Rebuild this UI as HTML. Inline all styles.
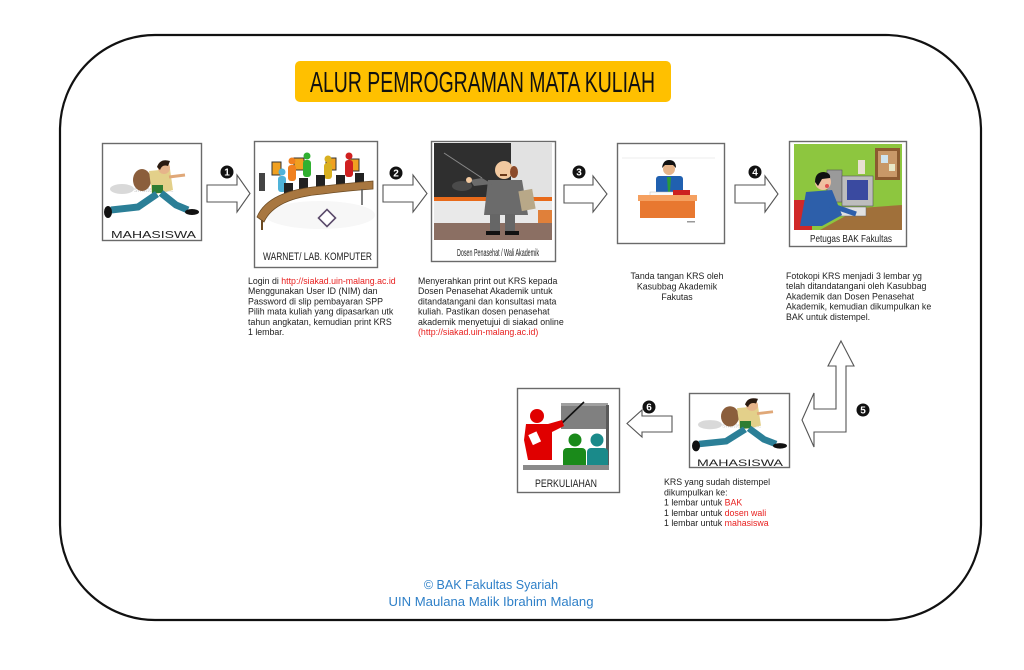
<!DOCTYPE html>
<html><head><meta charset="utf-8"><style>
html,body{margin:0;padding:0;background:#fff;}
svg{display:block;font-family:"Liberation Sans",Arial,sans-serif;}
.p{font-size:8.8px;fill:#222;}
.r{fill:#e8201f;}
.box{fill:#fff;stroke:#6a6a6a;stroke-width:1.4;}
.arr{fill:#fff;stroke:#555;stroke-width:1.1;stroke-linejoin:miter;}
.num{font-size:10px;font-weight:bold;fill:#fff;text-anchor:middle;}
</style></head><body>
<svg width="1024" height="670" viewBox="0 0 1024 670" xmlns="http://www.w3.org/2000/svg">
<rect width="1024" height="670" fill="#fff"/>
<rect x="60" y="35" width="921" height="585" rx="95" ry="95" fill="none" stroke="#111" stroke-width="2.2"/>

<!-- Title -->
<rect x="295" y="61" width="376" height="41" rx="5" fill="#ffc000"/>
<text x="310" y="92" font-size="29" fill="#111" textLength="345" lengthAdjust="spacingAndGlyphs">ALUR PEMROGRAMAN MATA KULIAH</text>

<!-- Box 1 MAHASISWA -->
<rect class="box" x="102.5" y="143.5" width="99" height="97"/>
<g id="student">
  <ellipse cx="122" cy="189" rx="12" ry="5" fill="#d9d9d9"/>
  <text x="134" y="192" font-size="7" fill="#cfcfcf">shutterstock.</text>
  <ellipse cx="142" cy="180" rx="9" ry="11" fill="#8b5e3c"/>
  <polygon points="149,171 170,169 173,190 152,195" fill="#e3d08a"/>
  <rect x="152" y="185" width="11" height="8" fill="#2e7d32"/>
  <line x1="169" y1="177" x2="185" y2="175" stroke="#e0a878" stroke-width="3"/>
  <circle cx="164" cy="168" r="6" fill="#e6b48a"/>
  <path d="M157,167 Q160,158 170,161 L168,166 Q162,164 160,170 Z" fill="#2a1a10"/>
  <polyline points="157,194 138,207 111,210" fill="none" stroke="#2b7f97" stroke-width="7"/>
  <polyline points="161,193 176,205 188,210" fill="none" stroke="#2b7f97" stroke-width="7"/>
  <ellipse cx="108" cy="212" rx="4" ry="6" fill="#111"/>
  <ellipse cx="192" cy="212" rx="7" ry="3" fill="#111"/>
</g>
<text x="111" y="238" font-size="10" fill="#222" textLength="85" lengthAdjust="spacingAndGlyphs">MAHASISWA</text>

<!-- Arrow 1 -->
<polygon class="arr" points="207,185 237,185 237,175 250,193.5 237,212 237,202 207,202"/>
<circle cx="227" cy="172" r="6.5" fill="#111"/><text class="num" x="227" y="175.5">1</text>

<!-- Box 2 WARNET -->
<rect class="box" x="254.5" y="141.5" width="123" height="126"/>
<ellipse cx="320" cy="215" rx="55" ry="14" fill="#f7f7f7"/>
<rect x="259" y="173" width="6" height="18" fill="#444"/>
<rect x="272" y="162" width="9" height="13" fill="#f0a020" stroke="#333" stroke-width="1"/>
<rect x="294" y="158" width="10" height="12" fill="#f0a020" stroke="#333" stroke-width="1"/>
<rect x="326" y="158" width="10" height="12" fill="#f0a020" stroke="#333" stroke-width="1"/>
<rect x="349" y="159" width="10" height="12" fill="#f0a020" stroke="#333" stroke-width="1"/>
<circle cx="282" cy="172" r="3.5" fill="#4fb3d9"/><rect x="278" y="176" width="8" height="16" rx="3" fill="#4fb3d9"/>
<circle cx="292" cy="161" r="3.5" fill="#f08020"/><rect x="288" y="165" width="8" height="16" rx="3" fill="#f08020"/>
<circle cx="307" cy="156" r="3.5" fill="#30b030"/><rect x="303" y="160" width="8" height="17" rx="3" fill="#30b030"/>
<circle cx="328" cy="159" r="3.5" fill="#d8b020"/><rect x="324" y="163" width="8" height="16" rx="3" fill="#d8b020"/>
<circle cx="349" cy="156" r="3.5" fill="#d02020"/><rect x="345" y="160" width="8" height="17" rx="3" fill="#d02020"/>
<rect x="284" y="183" width="9" height="16" fill="#222"/>
<rect x="299" y="178" width="9" height="16" fill="#222"/>
<rect x="316" y="175" width="9" height="16" fill="#222"/>
<rect x="336" y="175" width="9" height="16" fill="#222"/>
<rect x="355" y="173" width="9" height="16" fill="#222"/>
<path d="M257,217 Q268,190 323,186 Q350,183 373,181 L373,189 Q345,191 323,194 Q275,198 264,222 Z" fill="#a87740" stroke="#6b4a22" stroke-width="0.8"/>
<line x1="262" y1="220" x2="262" y2="230" stroke="#6b4a22" stroke-width="2"/>
<line x1="362" y1="189" x2="362" y2="205" stroke="#555" stroke-width="1.5"/>
<rect x="321" y="212" width="12" height="12" fill="#fff" stroke="#5a4a6a" stroke-width="1.6" transform="rotate(45 327 218)"/>
<text x="263" y="260" font-size="11" fill="#222" textLength="109" lengthAdjust="spacingAndGlyphs">WARNET/ LAB. KOMPUTER</text>

<!-- Arrow 2 -->
<polygon class="arr" points="383,185 413,185 413,175 427,193.5 413,212 413,202 383,202"/>
<circle cx="396" cy="173" r="6.5" fill="#111"/><text class="num" x="396" y="176.5">2</text>

<!-- Box 3 Dosen -->
<rect class="box" x="431.5" y="141.5" width="124" height="120"/>
<rect x="434" y="143" width="77" height="55" fill="#2f2f2f"/>
<rect x="511" y="143" width="41" height="55" fill="#e2e2e2"/>
<rect x="434" y="197" width="118" height="4" fill="#e86a1a"/>
<rect x="434" y="201" width="118" height="23" fill="#e9e9e9"/>
<rect x="538" y="210" width="14" height="15" fill="#e0803a"/>
<rect x="434" y="223" width="118" height="17" fill="#8b6f63"/>
<ellipse cx="462" cy="186" rx="10" ry="5" fill="#4a4a4a"/>
<line x1="444" y1="153" x2="482" y2="178" stroke="#8a8a8a" stroke-width="1"/>
<polygon points="488,180 522,180 528,215 484,215" fill="#6b6b6b"/>
<polygon points="482,178 492,184 474,186 470,180" fill="#6b6b6b"/>
<circle cx="469" cy="180" r="3" fill="#f2c9a0"/>
<rect x="490" y="214" width="10" height="18" fill="#666"/>
<rect x="505" y="214" width="10" height="18" fill="#666"/>
<rect x="486" y="231" width="14" height="4" fill="#111"/>
<rect x="505" y="231" width="14" height="4" fill="#111"/>
<rect x="520" y="190" width="14" height="20" fill="#b8a888" transform="rotate(-10 527 200)"/>
<circle cx="504" cy="170" r="9" fill="#f2c9a0"/>
<ellipse cx="514" cy="172" rx="4" ry="6" fill="#8b4a2a"/>
<rect x="500" y="174" width="7" height="2" fill="#6b3a1a"/>
<text x="457" y="256" font-size="10" fill="#222" textLength="82" lengthAdjust="spacingAndGlyphs">Dosen Penasehat / Wali Akademik</text>

<!-- Arrow 3 -->
<polygon class="arr" points="564,185 593,185 593,176 607,194 593,212 593,203 564,203"/>
<circle cx="579" cy="172" r="6.5" fill="#111"/><text class="num" x="579" y="175.5">3</text>

<!-- Box 4 Tanda tangan -->
<rect class="box" x="617.5" y="143.5" width="107" height="100"/>
<line x1="622" y1="158" x2="715" y2="158" stroke="#eee" stroke-width="1"/>
<rect x="656" y="176" width="27" height="20" rx="3" fill="#2060b0"/>
<polygon points="667,177 671,177 670,192 668,192" fill="#2a9a3a"/>
<circle cx="669" cy="169" r="6" fill="#e6b48a"/>
<path d="M662,168 Q663,160 669,160 Q676,160 676,168 L673,165 L665,165 Z" fill="#111"/>
<rect x="650" y="192" width="26" height="4" fill="#fafafa" stroke="#bbb" stroke-width="0.5"/>
<rect x="673" y="190" width="17" height="5" fill="#cc2020"/>
<rect x="638" y="195" width="59" height="6" fill="#f5a060"/>
<rect x="640" y="201" width="55" height="17" fill="#e87830"/>
<rect x="687" y="221" width="8" height="1.5" fill="#999"/>
<text x="677" y="279" class="p" text-anchor="middle">Tanda tangan KRS oleh</text>
<text x="677" y="289.5" class="p" text-anchor="middle">Kasubbag Akademik</text>
<text x="677" y="300" class="p" text-anchor="middle">Fakutas</text>

<!-- Arrow 4 -->
<polygon class="arr" points="735,185 765,185 765,176 778,194 765,212 765,203 735,203"/>
<circle cx="755" cy="172" r="6.5" fill="#111"/><text class="num" x="755" y="175.5">4</text>

<!-- Box 5 Petugas -->
<rect class="box" x="789.5" y="141.5" width="117" height="105"/>
<rect x="794" y="144" width="108" height="86" fill="#8dc63f"/>
<rect x="875" y="148" width="25" height="32" fill="#8b5a30"/>
<rect x="878" y="151" width="19" height="26" fill="#c89868"/>
<rect x="881" y="155" width="7" height="8" fill="#cfe4f0"/>
<rect x="889" y="164" width="6" height="7" fill="#e8e8c8"/>
<rect x="858" y="160" width="7" height="14" fill="#e8e0d0"/>
<rect x="827" y="170" width="15" height="32" fill="#9a9a9a" stroke="#555" stroke-width="0.6"/>
<rect x="842" y="176" width="31" height="30" fill="#bdbdbd" stroke="#555" stroke-width="0.6"/>
<rect x="847" y="180" width="21" height="20" fill="#3a4aa0"/>
<polygon points="820,230 902,230 902,205 860,208" fill="#a0703a"/>
<rect x="834" y="207" width="32" height="9" fill="#e0e0e0" stroke="#666" stroke-width="0.5"/>
<rect x="794" y="200" width="18" height="30" fill="#d02828"/>
<polygon points="806,192 832,190 842,215 822,226 800,226" fill="#2d5faa"/>
<line x1="830" y1="205" x2="856" y2="214" stroke="#2d5faa" stroke-width="5"/>
<circle cx="823" cy="182" r="8" fill="#f0c0a0"/>
<path d="M815,182 Q815,172 824,172 Q831,173 830,178 L822,179 L818,186 Z" fill="#111"/>
<circle cx="827" cy="186" r="2" fill="#e05050"/>
<text x="810" y="242" font-size="10.5" fill="#222" textLength="82" lengthAdjust="spacingAndGlyphs">Petugas BAK Fakultas</text>

<!-- Paragraph 1 -->
<text class="p" x="248" y="284">Login di <tspan class="r">http://siakad.uin-malang.ac.id</tspan></text>
<text class="p" x="248" y="294.2">Menggunakan User ID (NIM) dan</text>
<text class="p" x="248" y="304.4">Password di slip pembayaran SPP</text>
<text class="p" x="248" y="314.6">Pilih mata kuliah yang dipasarkan utk</text>
<text class="p" x="248" y="324.8">tahun angkatan, kemudian print KRS</text>
<text class="p" x="248" y="335">1 lembar.</text>

<!-- Paragraph 2 -->
<text class="p" x="418" y="284">Menyerahkan print out KRS kepada</text>
<text class="p" x="418" y="294.2">Dosen Penasehat Akademik untuk</text>
<text class="p" x="418" y="304.4">ditandatangani dan konsultasi mata</text>
<text class="p" x="418" y="314.6">kuliah. Pastikan dosen penasehat</text>
<text class="p" x="418" y="324.8">akademik menyetujui di siakad online</text>
<text class="p r" x="418" y="335">(http://siakad.uin-malang.ac.id)</text>

<!-- Paragraph 4 -->
<text class="p" x="786" y="279">Fotokopi KRS menjadi 3 lembar yg</text>
<text class="p" x="786" y="289.2">telah ditandatangani oleh Kasubbag</text>
<text class="p" x="786" y="299.4">Akademik dan Dosen Penasehat</text>
<text class="p" x="786" y="309.6">Akademik, kemudian dikumpulkan ke</text>
<text class="p" x="786" y="319.8">BAK untuk distempel.</text>

<!-- Arrow 5 (L shape) -->
<polygon class="arr" points="841,341 854,366 846,366 846,432 814,432 814,447 802,420 814,393 814,409 836,409 836,366 828,366"/>
<circle cx="863" cy="410" r="6.5" fill="#111"/><text class="num" x="863" y="413.5">5</text>

<!-- Box MAHASISWA 2 -->
<rect class="box" x="689.5" y="393.5" width="100" height="74"/>
<use href="#student" transform="translate(588 250.8) scale(1 0.92)"/>
<text x="697" y="466" font-size="9.5" fill="#222" textLength="86" lengthAdjust="spacingAndGlyphs">MAHASISWA</text>

<!-- Arrow 6 -->
<polygon class="arr" points="672,416 642,416 642,410 627,423.5 642,437 642,432 672,432"/>
<circle cx="649" cy="407" r="6.5" fill="#111"/><text class="num" x="649" y="410.5">6</text>

<!-- Box PERKULIAHAN -->
<rect class="box" x="517.5" y="388.5" width="102" height="104"/>
<rect x="561" y="405" width="47" height="24" fill="#808080"/>
<rect x="561" y="403" width="47" height="3" fill="#a0a0a0"/>
<rect x="606" y="405" width="3" height="62" fill="#5a5a5a"/>
<line x1="560" y1="425" x2="584" y2="402" stroke="#111" stroke-width="1.6"/>
<circle cx="537" cy="416" r="7" fill="#e00000"/>
<polygon points="526,424 548,424 562,420 564,426 552,432 552,460 528,460 524,440" fill="#e00000"/>
<rect x="530" y="433" width="9" height="11" fill="#fff" transform="rotate(-25 534 438)"/>
<circle cx="575" cy="440" r="6.5" fill="#1a8a1a"/>
<rect x="563" y="448" width="23" height="22" rx="4" fill="#1a8a1a"/>
<circle cx="597" cy="440" r="6.5" fill="#1a8a8a"/>
<rect x="587" y="448" width="21" height="22" rx="4" fill="#1a8a8a"/>
<rect x="523" y="465" width="86" height="5" fill="#8a8a8a"/>
<text x="535" y="487" font-size="11" fill="#222" textLength="62" lengthAdjust="spacingAndGlyphs">PERKULIAHAN</text>

<!-- KRS text -->
<text class="p" x="664" y="485">KRS yang sudah distempel</text>
<text class="p" x="664" y="495.3">dikumpulkan ke:</text>
<text class="p" x="664" y="505.6">1 lembar untuk <tspan class="r">BAK</tspan></text>
<text class="p" x="664" y="515.9">1 lembar untuk <tspan class="r">dosen wali</tspan></text>
<text class="p" x="664" y="526.2">1 lembar untuk <tspan class="r">mahasiswa</tspan></text>

<!-- Footer -->
<text x="491" y="589" font-size="12.5" fill="#2f80c8" text-anchor="middle">© BAK Fakultas Syariah</text>
<text x="491" y="606" font-size="12.5" fill="#2f80c8" text-anchor="middle" textLength="205" lengthAdjust="spacingAndGlyphs">UIN Maulana Malik Ibrahim Malang</text>
</svg>
</body></html>
